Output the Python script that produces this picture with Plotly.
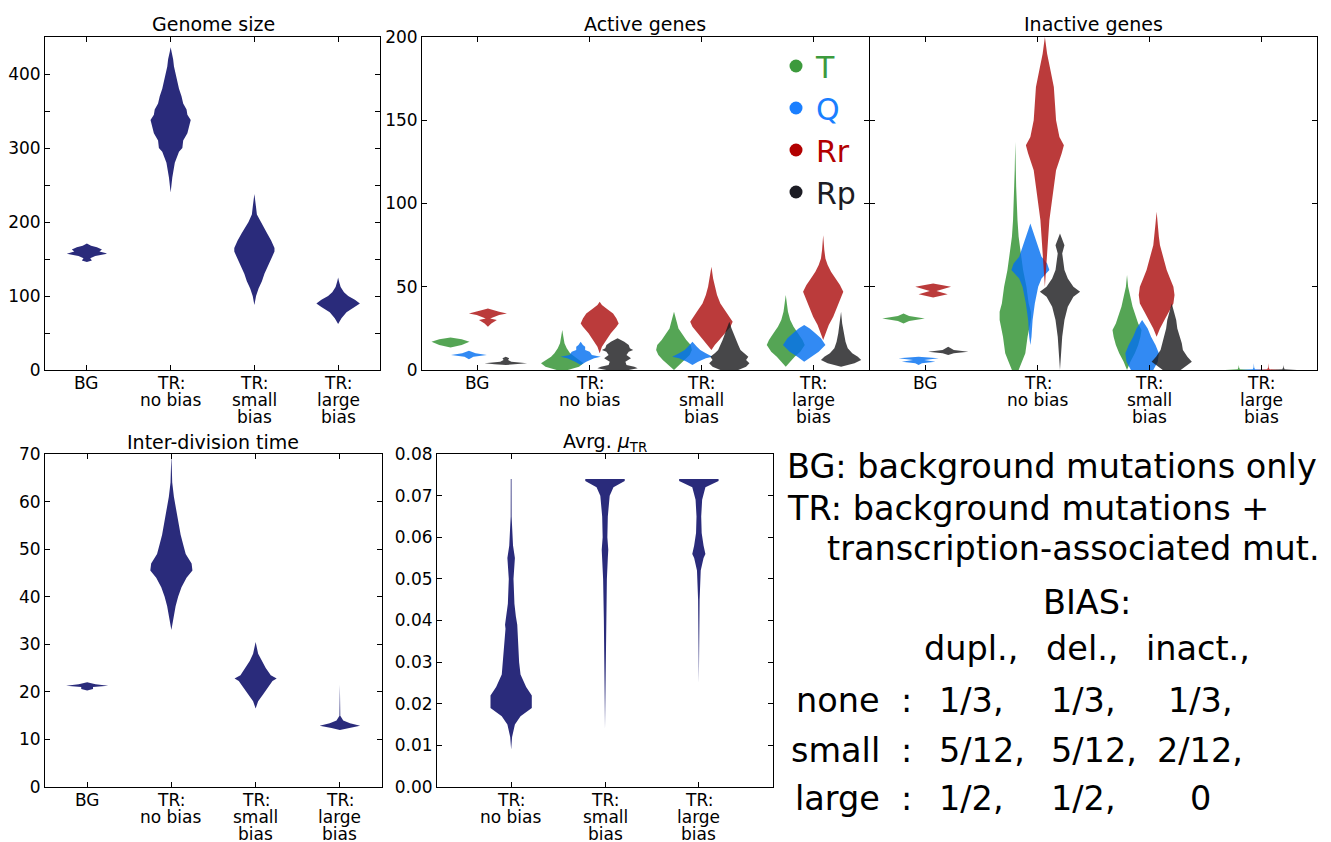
import plotly.graph_objects as go

W, H = 1331, 842
FONT = "DejaVu Sans"

CATEGORY_LINES = [["BG"], ["TR:", "no bias"], ["TR:", "small", "bias"], ["TR:", "large", "bias"]]
MU_CATEGORY_LINES = CATEGORY_LINES[1:]

NAVY = "#2a2b7b"
SPECIES = ["T", "Q", "Rr", "Rp"]
SPECIES_FILL = ["rgba(42,142,42,0.8)", "rgba(5,112,240,0.82)", "rgba(170,10,10,0.8)", "rgba(25,25,28,0.8)"]
LEGEND_COLORS = ["#3c9a3c", "#1a7fff", "#b20000", "#1c1c24"]
ACTIVE_OFFSETS = [-0.245, -0.08, 0.09, 0.25]
INACTIVE_OFFSETS = [-0.2, -0.065, 0.065, 0.2]

# ---- Genome size (value knots / half-width knots per category)
GENOME_VALUES = [
    [146, 148, 151, 154, 157, 158, 160, 163, 166, 168, 171],
    [240, 260, 280, 295, 300, 310, 320, 330, 338, 345, 352, 360, 370, 380, 390, 400, 410, 420, 430, 436],
    [88, 100, 110, 120, 130, 140, 150, 160, 165, 175, 185, 195, 200, 210, 220, 238],
    [62, 70, 78, 85, 90, 95, 100, 105, 112, 120, 125],
]
GENOME_WIDTHS = [
    [0, 0.06, 0.04, 0.10, 0.24, 0.22, 0.15, 0.18, 0.12, 0.05, 0],
    [0, 0.02, 0.05, 0.10, 0.14, 0.15, 0.20, 0.22, 0.24, 0.20, 0.19, 0.15, 0.13, 0.10, 0.08, 0.06, 0.04, 0.03, 0.01, 0],
    [0, 0.02, 0.05, 0.09, 0.12, 0.16, 0.20, 0.24, 0.24, 0.20, 0.15, 0.10, 0.07, 0.03, 0.02, 0],
    [0, 0.04, 0.10, 0.20, 0.26, 0.20, 0.12, 0.07, 0.03, 0.01, 0],
]

# ---- Inter-division time
DIVISION_VALUES = [
    [20.3, 20.6, 21.0, 21.3, 21.6, 22.0],
    [33, 35, 38, 40, 42, 44, 45.5, 47, 49, 51, 53, 55, 58, 61, 64, 70],
    [16.5, 18, 19.5, 21, 22.3, 22.8, 23.5, 25, 26.5, 28, 30.5],
    [12.0, 12.4, 12.9, 13.4, 14.0, 15.0, 21.5],
]
DIVISION_WIDTHS = [
    [0, 0.07, 0.07, 0.25, 0.10, 0],
    [0, 0.02, 0.05, 0.08, 0.12, 0.18, 0.25, 0.24, 0.17, 0.14, 0.11, 0.09, 0.06, 0.03, 0.01, 0],
    [0, 0.03, 0.09, 0.15, 0.20, 0.25, 0.18, 0.12, 0.07, 0.03, 0],
    [0, 0.10, 0.24, 0.12, 0.04, 0.005, 0],
]

# ---- Average mu_TR
MU_VALUES = [
    [0.009, 0.012, 0.015, 0.017, 0.019, 0.022, 0.024, 0.027, 0.030, 0.035, 0.038, 0.039, 0.041, 0.044,
     0.050, 0.055, 0.058, 0.062, 0.065, 0.074],
    [0.014, 0.020, 0.030, 0.040, 0.050, 0.055, 0.057, 0.060, 0.065, 0.070, 0.072, 0.0735, 0.074],
    [0.025, 0.035, 0.045, 0.052, 0.055, 0.056, 0.058, 0.061, 0.065, 0.069, 0.072, 0.0735, 0.074],
]
MU_WIDTHS = [
    [0, 0.01, 0.04, 0.10, 0.22, 0.22, 0.16, 0.10, 0.085, 0.07, 0.06, 0.065, 0.05, 0.035,
     0.025, 0.04, 0.02, 0.01, 0.005, 0.004],
    [0, 0.003, 0.008, 0.012, 0.02, 0.03, 0.035, 0.025, 0.03, 0.05, 0.09, 0.21, 0.21],
    [0, 0.003, 0.008, 0.02, 0.05, 0.07, 0.05, 0.03, 0.025, 0.035, 0.07, 0.21, 0.21],
]

# ---- Active genes: per species, list over 4 categories
ACTIVE_VALUES = {
    "T": [[13.5, 15, 17, 18.5, 19.5],
          [0, 2, 4, 6, 8, 10, 13, 16, 20, 24],
          [0, 3, 6, 9, 12, 15, 18, 21, 25, 30, 35],
          [2, 5, 8, 11, 15, 18, 22, 26, 30, 35, 40, 45]],
    "Q": [[6.5, 8, 9, 10, 11.5],
          [3, 5, 7, 8, 9, 11, 12, 14, 15, 17],
          [3, 5, 7, 8, 10, 12, 14, 17],
          [5, 8, 11, 15, 19, 22, 25, 27]],
    "Rr": [[26, 28, 30, 31, 33, 34, 35, 36, 37],
           [10, 14, 18, 22, 26, 28, 31, 34, 37, 39, 41],
           [12, 15, 18, 22, 26, 29, 32, 36, 40, 45, 50, 55, 62],
           [18, 22, 27, 32, 37, 42, 47, 51, 55, 59, 63, 67, 72, 81]],
    "Rp": [[3, 3.5, 4, 5, 6, 7, 8],
           [0, 1, 2, 3, 5, 7, 9, 11, 12, 13, 15, 17, 19],
           [0, 2, 4, 6, 8, 10, 12, 15, 18, 21, 25, 29],
           [2, 4, 6, 8, 10, 13, 17, 22, 28, 35]],
}
ACTIVE_WIDTHS = {
    "T": [[0, 0.10, 0.17, 0.10, 0],
          [0.05, 0.15, 0.19, 0.15, 0.10, 0.07, 0.04, 0.02, 0.01, 0],
          [0, 0.05, 0.10, 0.14, 0.16, 0.15, 0.11, 0.08, 0.04, 0.02, 0],
          [0, 0.04, 0.08, 0.13, 0.17, 0.15, 0.11, 0.07, 0.04, 0.02, 0.01, 0]],
    "Q": [[0, 0.04, 0.16, 0.06, 0],
          [0, 0.05, 0.12, 0.18, 0.10, 0.08, 0.04, 0.04, 0.02, 0],
          [0, 0.05, 0.12, 0.18, 0.12, 0.07, 0.04, 0],
          [0, 0.06, 0.13, 0.19, 0.15, 0.10, 0.05, 0]],
    "Rr": [[0, 0.03, 0.08, 0.02, 0.10, 0.17, 0.10, 0.05, 0],
           [0, 0.02, 0.06, 0.10, 0.15, 0.17, 0.15, 0.12, 0.06, 0.02, 0],
           [0, 0.03, 0.07, 0.12, 0.17, 0.19, 0.16, 0.12, 0.08, 0.05, 0.03, 0.015, 0],
           [0, 0.02, 0.05, 0.09, 0.12, 0.15, 0.18, 0.15, 0.11, 0.07, 0.04, 0.02, 0.01, 0]],
    "Rp": [[0, 0.10, 0.19, 0.05, 0.02, 0.03, 0],
           [0.10, 0.18, 0.15, 0.08, 0.07, 0.12, 0.08, 0.10, 0.14, 0.11, 0.10, 0.06, 0],
           [0.08, 0.15, 0.18, 0.15, 0.17, 0.13, 0.10, 0.08, 0.06, 0.04, 0.02, 0],
           [0, 0.12, 0.18, 0.15, 0.10, 0.06, 0.04, 0.025, 0.01, 0]],
}

# ---- Inactive genes
INACTIVE_VALUES = {
    "T": [[28, 29.5, 31, 32.5, 34],
          [0, 5, 10, 20, 30, 35, 40, 50, 60, 70, 80, 90, 100, 110, 120, 137],
          [0, 5, 10, 15, 20, 24, 28, 32, 38, 44, 50, 57],
          [0, 0.4, 1.5, 3]],
    "Q": [[3, 4, 5, 6, 7, 8],
          [15, 20, 30, 40, 50, 55, 60, 64, 68, 72, 76, 80, 84, 88],
          [0, 5, 10, 15, 20, 25, 30],
          [0, 0.4, 1.5, 4]],
    "Rr": [[43.5, 45.5, 47.5, 50, 52],
           [50, 60, 70, 80, 90, 100, 110, 120, 130, 135, 140, 150, 160, 170, 180, 190, 200],
           [20, 25, 30, 35, 40, 45, 50, 55, 60, 65, 70, 75, 80, 88, 95],
           [0, 0.4, 1.5, 4]],
    "Rp": [[9, 10, 11, 12, 14],
           [0, 10, 20, 30, 38, 44, 47, 50, 55, 60, 65, 70, 75, 82],
           [0, 3, 5, 8, 12, 16, 20, 25, 30, 35, 40],
           [0, 0.4, 1.5, 3]],
}
INACTIVE_WIDTHS = {
    "T": [[0, 0.05, 0.19, 0.05, 0],
          [0.03, 0.06, 0.09, 0.11, 0.14, 0.14, 0.12, 0.10, 0.07, 0.05, 0.03, 0.02, 0.012, 0.008, 0.005, 0],
          [0, 0.03, 0.07, 0.10, 0.12, 0.13, 0.10, 0.08, 0.05, 0.03, 0.01, 0],
          [0.12, 0.01, 0.003, 0]],
    "Q": [[0, 0.03, 0.15, 0.05, 0.18, 0],
          [0, 0.01, 0.02, 0.04, 0.07, 0.10, 0.17, 0.15, 0.10, 0.08, 0.06, 0.04, 0.02, 0],
          [0.10, 0.14, 0.15, 0.12, 0.08, 0.05, 0],
          [0.12, 0.01, 0.003, 0]],
    "Rr": [[0, 0.13, 0.03, 0.16, 0],
           [0, 0.01, 0.02, 0.03, 0.04, 0.06, 0.08, 0.10, 0.15, 0.17, 0.13, 0.10, 0.09, 0.08, 0.05, 0.02, 0],
           [0, 0.03, 0.07, 0.11, 0.15, 0.16, 0.15, 0.12, 0.09, 0.07, 0.05, 0.03, 0.02, 0.01, 0],
           [0.12, 0.01, 0.003, 0]],
    "Rp": [[0, 0.05, 0.18, 0.05, 0],
           [0, 0.01, 0.02, 0.04, 0.07, 0.12, 0.18, 0.12, 0.07, 0.04, 0.03, 0.02, 0.04, 0],
           [0.08, 0.14, 0.18, 0.14, 0.10, 0.09, 0.07, 0.05, 0.04, 0.02, 0],
           [0.12, 0.01, 0.003, 0]],
}

# ---- Text block
NOTE_LINES = ["BG: background mutations only", "TR: background mutations +", "transcription-associated mut."]
BIAS_HEADER = ["dupl.,", "del.,", "inact.,"]
BIAS_ROWS = ["none", "small", "large"]
BIAS_TABLE = [["1/3,", "1/3,", "1/3,"], ["5/12,", "5/12,", "2/12,"], ["1/2,", "1/2,", "0"]]


def px(x):
    return x / W


def py(y):
    return 1 - y / H


def violin(fig, xc, values, widths, color, ax):
    xs = [xc + w for w in widths] + [xc - w for w in reversed(widths)]
    ys = list(values) + list(reversed(values))
    fig.add_trace(go.Scatter(x=xs, y=ys, mode="lines", fill="toself", fillcolor=color,
                             line=dict(width=0, color=color), hoverinfo="skip", showlegend=False,
                             xaxis="x" + ax, yaxis="y" + ax))


fig = go.Figure()

for i in range(4):
    violin(fig, i + 1, GENOME_VALUES[i], GENOME_WIDTHS[i], NAVY, "")
    violin(fig, i + 1, DIVISION_VALUES[i], DIVISION_WIDTHS[i], NAVY, "4")
for i in range(3):
    violin(fig, i + 1, MU_VALUES[i], MU_WIDTHS[i], NAVY, "5")
for s, sp in enumerate(SPECIES):
    for i in range(4):
        violin(fig, i + 1 + ACTIVE_OFFSETS[s], ACTIVE_VALUES[sp][i], ACTIVE_WIDTHS[sp][i], SPECIES_FILL[s], "2")
        violin(fig, i + 1 + INACTIVE_OFFSETS[s], INACTIVE_VALUES[sp][i], INACTIVE_WIDTHS[sp][i], SPECIES_FILL[s], "3")

for s, sp in enumerate(SPECIES):
    fig.add_trace(go.Scatter(x=[None], y=[None], mode="markers", xaxis="x2", yaxis="y2",
                             marker=dict(size=13, color=LEGEND_COLORS[s]),
                             name=f"<span style='color:{LEGEND_COLORS[s]}'>{sp}</span>", showlegend=True))

axis_common = dict(showline=True, linecolor="black", linewidth=1, mirror="ticks", ticks="inside",
                   ticklen=5, tickcolor="black", showgrid=False, zeroline=False, automargin=False,
                   tickfont=dict(family=FONT, size=17, color="black"))
xcommon = dict(axis_common, showticklabels=False)


def ydomain(top, bottom):
    return [py(bottom), py(top)]


layout = dict(
    width=W, height=H, margin=dict(l=0, r=0, t=0, b=0, autoexpand=False),
    paper_bgcolor="white", plot_bgcolor="white",
    font=dict(family=FONT, color="black"),
    xaxis=dict(xcommon, domain=[px(45), px(380)], range=[0.5, 4.5], anchor="y", tickvals=[1, 2, 3, 4]),
    yaxis=dict(axis_common, domain=ydomain(37, 370), range=[0, 450], anchor="x",
               tickvals=[0, 50, 100, 150, 200, 250, 300, 350, 400],
               ticktext=["0", "", "100", "", "200", "", "300", "", "400"]),
    xaxis2=dict(xcommon, domain=[px(422), px(869)], range=[0.5, 4.5], anchor="y2", tickvals=[1, 2, 3, 4]),
    yaxis2=dict(axis_common, domain=ydomain(37, 370), range=[0, 200], anchor="x2",
                tickvals=[0, 50, 100, 150, 200]),
    xaxis3=dict(xcommon, domain=[px(870), px(1317)], range=[0.5, 4.5], anchor="y3", tickvals=[1, 2, 3, 4]),
    yaxis3=dict(axis_common, domain=ydomain(37, 370), range=[0, 200], anchor="x3",
                tickvals=[0, 50, 100, 150, 200], showticklabels=False),
    xaxis4=dict(xcommon, domain=[px(45), px(382)], range=[0.5, 4.5], anchor="y4", tickvals=[1, 2, 3, 4]),
    yaxis4=dict(axis_common, domain=ydomain(454, 787), range=[0, 70], anchor="x4",
                tickvals=[0, 10, 20, 30, 40, 50, 60, 70]),
    xaxis5=dict(xcommon, domain=[px(437), px(773)], range=[0.21, 3.79], anchor="y5", tickvals=[1, 2, 3]),
    yaxis5=dict(axis_common, domain=ydomain(454, 787), range=[0, 0.08], anchor="x5",
                tickvals=[0, 0.01, 0.02, 0.03, 0.04, 0.05, 0.06, 0.07, 0.08], tickformat=".2f"),
    legend=dict(x=px(776), y=py(40), xanchor="left", yanchor="top", bgcolor="rgba(0,0,0,0)",
                font=dict(family=FONT, size=30), itemwidth=30, tracegroupgap=0),
    showlegend=True,
)
fig.update_layout(**layout)

annotations = []

# category labels (one text per line, tight line spacing as in the reference)
axis_bottoms = [("x", 370, CATEGORY_LINES), ("x2", 370, CATEGORY_LINES), ("x3", 370, CATEGORY_LINES),
                ("x4", 787, CATEGORY_LINES), ("x5", 787, MU_CATEGORY_LINES)]
for xref, bottom, cats in axis_bottoms:
    for i, lines in enumerate(cats):
        for k, line in enumerate(lines):
            annotations.append(dict(text=line, x=i + 1, y=py(bottom + 13 + 17 * k), xref=xref, yref="paper",
                                    showarrow=False, xanchor="center", yanchor="middle",
                                    font=dict(family=FONT, size=17)))

titles = [("Genome size", 213, 24), ("Active genes", 645, 24), ("Inactive genes", 1093, 24),
          ("Inter-division time", 213, 442), ("Avrg. <i>μ</i><sub>TR</sub>", 605, 442)]
for text, x, y in titles:
    annotations.append(dict(text=text, x=px(x), y=py(y), xref="paper", yref="paper", showarrow=False,
                            xanchor="center", yanchor="middle", font=dict(family=FONT, size=19)))

BIG = 33.5
note_pos = [(785, 467), (785, 508), (825, 548)]
for text, (x, y) in zip(NOTE_LINES, note_pos):
    annotations.append(dict(text=text, x=px(x), y=py(y), xref="paper", yref="paper", showarrow=False,
                            xanchor="left", yanchor="middle", font=dict(family=FONT, size=BIG)))
annotations.append(dict(text="BIAS:", x=px(1087), y=py(602), xref="paper", yref="paper", showarrow=False,
                        xanchor="center", yanchor="middle", font=dict(family=FONT, size=BIG)))
for text, x in zip(BIAS_HEADER, [971, 1082, 1198]):
    annotations.append(dict(text=text, x=px(x), y=py(648), xref="paper", yref="paper", showarrow=False,
                            xanchor="center", yanchor="middle", font=dict(family=FONT, size=BIG)))
for r, (label, row) in enumerate(zip(BIAS_ROWS, BIAS_TABLE)):
    y = [700, 750, 798][r]
    annotations.append(dict(text=label, x=px(882), y=py(y), xref="paper", yref="paper", showarrow=False,
                            xanchor="right", yanchor="middle", font=dict(family=FONT, size=BIG)))
    annotations.append(dict(text=":", x=px(906), y=py(y), xref="paper", yref="paper", showarrow=False,
                            xanchor="center", yanchor="middle", font=dict(family=FONT, size=BIG)))
    for c, cell in enumerate(row):
        if c < 2:
            annotations.append(dict(text=cell, x=px([937, 1049][c]), y=py(y), xref="paper", yref="paper",
                                    showarrow=False, xanchor="left", yanchor="middle",
                                    font=dict(family=FONT, size=BIG)))
        else:
            annotations.append(dict(text=cell, x=px(1200), y=py(y), xref="paper", yref="paper",
                                    showarrow=False, xanchor="center", yanchor="middle",
                                    font=dict(family=FONT, size=BIG)))
fig.update_layout(annotations=annotations)

fig.write_html("out.html")
